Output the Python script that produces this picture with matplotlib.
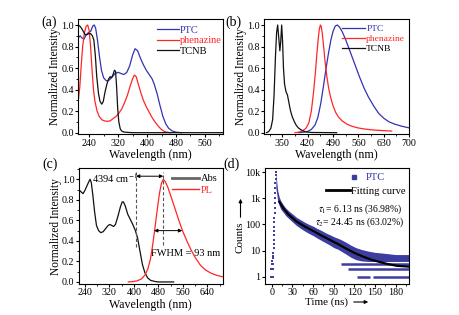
import matplotlib
matplotlib.use('Agg')
import matplotlib.pyplot as plt
from matplotlib.lines import Line2D
from matplotlib.patches import FancyArrowPatch
from matplotlib.ticker import MultipleLocator, NullLocator

plt.rcParams['font.family'] = ['Liberation Serif', 'DejaVu Sans']
plt.rcParams['mathtext.fontset'] = 'stix'
plt.rcParams['axes.linewidth'] = 0.8

BLUE = '#3333b0'
RED = '#ff2626'
DOTS = '#3d3da0'

# ---------------- (a) absorption ----------------
a_ptc_wl = [210, 215, 220, 226, 232, 238, 244, 250, 254, 258, 263, 268, 274, 280, 288, 296, 304, 312, 320, 328,
            336, 344, 352, 360, 367, 374, 382, 390, 398, 406, 414, 420, 428, 436, 444, 452, 460, 470, 480, 495]
a_ptc_val = [0.88, 0.90, 0.88, 0.87, 0.91, 0.93, 0.94, 0.99, 1.0, 0.97, 0.86, 0.72, 0.58, 0.51, 0.48, 0.49, 0.52,
             0.55, 0.56, 0.55, 0.54, 0.56, 0.62, 0.72, 0.78, 0.76, 0.69, 0.63, 0.58, 0.54, 0.50, 0.45, 0.36, 0.25,
             0.15, 0.08, 0.04, 0.015, 0.005, 0.0]
a_phz_wl = [210, 214, 218, 222, 227, 232, 236, 240, 244, 248, 252, 256, 262, 268, 275, 282, 290, 298, 306, 314,
            322, 330, 338, 346, 354, 360, 365, 370, 376, 382, 390, 398, 406, 414, 422, 430, 438, 446, 454, 465]
a_phz_val = [0.30, 0.42, 0.62, 0.80, 0.93, 0.99, 1.0, 0.95, 0.80, 0.58, 0.40, 0.29, 0.20, 0.15, 0.12, 0.11, 0.105,
             0.11, 0.13, 0.15, 0.18, 0.22, 0.28, 0.35, 0.44, 0.50, 0.535, 0.52, 0.45, 0.38, 0.30, 0.24, 0.19, 0.14,
             0.10, 0.065, 0.035, 0.015, 0.005, 0.0]
a_tcnb_wl = [210, 214, 219, 224, 229, 234, 239, 244, 249, 253, 257, 261, 266, 270, 275, 279, 284, 289, 294, 298,
             302, 306, 310, 313, 316, 319, 322, 326, 330, 336, 345, 360, 610]
a_tcnb_val = [1.0, 0.99, 0.97, 0.94, 0.91, 0.91, 0.92, 0.92, 0.90, 0.86, 0.72, 0.52, 0.36, 0.29, 0.265, 0.29, 0.38,
              0.45, 0.50, 0.52, 0.51, 0.54, 0.58, 0.57, 0.42, 0.22, 0.10, 0.035, 0.015, 0.006, 0.003, 0.0, 0.0]

# ---------------- (b) emission ----------------
b_ptc_wl = [395, 410, 420, 430, 440, 448, 456, 463, 470, 477, 484, 490, 496, 502, 508, 515, 523, 532, 542, 552,
            563, 575, 588, 602, 616, 630, 645, 660, 680, 700]
b_ptc_val = [0.0, 0.005, 0.012, 0.03, 0.07, 0.14, 0.27, 0.42, 0.58, 0.73, 0.86, 0.94, 0.99, 1.0, 0.98, 0.94, 0.88,
             0.80, 0.71, 0.62, 0.52, 0.42, 0.33, 0.25, 0.18, 0.135, 0.10, 0.08, 0.06, 0.045]
b_phz_wl = [385, 395, 405, 415, 423, 430, 436, 441, 445, 449, 452, 455, 457, 460, 464, 468, 473, 478, 484, 490,
            497, 505, 515, 528, 542, 558, 575, 595, 615, 635, 652]
b_phz_val = [0.0, 0.005, 0.015, 0.04, 0.09, 0.2, 0.37, 0.55, 0.72, 0.87, 0.96, 1.0, 0.99, 0.93, 0.8, 0.66, 0.52,
             0.41, 0.32, 0.25, 0.19, 0.145, 0.11, 0.08, 0.06, 0.045, 0.035, 0.027, 0.022, 0.018, 0.015]
b_tcnb_wl = [306, 312, 318, 323, 327, 331, 334, 337, 340, 343, 345.5, 348, 350.5, 353, 356, 360, 364, 368, 372,
             377, 382, 388, 394, 400, 408, 416, 430, 500]
b_tcnb_val = [0.0, 0.01, 0.04, 0.12, 0.35, 0.72, 0.93, 1.0, 0.88, 0.76, 0.85, 1.0, 0.85, 0.6, 0.45, 0.38, 0.35,
              0.28, 0.21, 0.15, 0.11, 0.07, 0.045, 0.03, 0.015, 0.007, 0.002, 0.0]

# ---------------- (c) Abs / PL ----------------
c_abs_wl = [220, 227, 234, 240, 246, 252, 257, 261, 266, 272, 278, 285, 292, 300, 308, 316, 322, 328, 334, 340,
            348, 356, 362, 366, 372, 380, 390, 398, 405, 412, 420, 428, 436, 445, 455, 470, 480, 530]
c_abs_val = [0.90, 0.88, 0.86, 0.89, 0.93, 0.97, 1.0, 0.97, 0.85, 0.68, 0.55, 0.50, 0.48, 0.49, 0.52, 0.55, 0.56,
             0.55, 0.54, 0.56, 0.64, 0.73, 0.78, 0.78, 0.74, 0.66, 0.60, 0.55, 0.50, 0.43, 0.30, 0.17, 0.09, 0.04,
             0.015, 0.004, 0.0, 0.0]
c_pl_wl = [382, 395, 410, 425, 437, 446, 454, 460, 466, 472, 478, 484, 490, 496, 502, 510, 518, 527, 537, 548,
           560, 573, 587, 602, 618, 635, 652, 670, 690]
c_pl_val = [0.0, 0.003, 0.01, 0.03, 0.07, 0.13, 0.22, 0.33, 0.46, 0.60, 0.74, 0.87, 0.96, 1.0, 0.98, 0.93, 0.86,
            0.78, 0.69, 0.59, 0.49, 0.40, 0.31, 0.23, 0.16, 0.115, 0.085, 0.065, 0.05]
shift_lines_x = [407, 496]          # absorption edge, PL maximum
shift_lines_y0 = [0.34, 0.36]
shift_lines_y1 = 1.07
shift_arrow_y = 1.03
fwhm_x = [466, 558]
fwhm_y = 0.5

# ---------------- (d) decay ----------------
pre_t = [-1.5, -0.8, 0.0, 0.6, 1.2, -1.0, -0.3, 0.4, 1.0, 0.2, 0.8, 1.4, 0.5, 1.1, 1.6]
pre_c = [1, 1, 1, 1, 1, 2, 2, 2, 2, 3, 3, 3, 4, 5, 6]
rise_t = [2.2, 2.4, 2.6, 2.8, 3.0, 3.2, 3.4, 3.6, 3.8, 4.0, 4.2, 4.4, 4.6, 4.8, 5.0, 5.2, 5.4, 5.6, 5.8]
rise_c = [8, 12, 18, 26, 38, 55, 80, 120, 180, 280, 420, 650, 1000, 1600, 2500, 3800, 5600, 8000, 10500]
band_t = [5.8, 7, 8.5, 10.8, 13, 16.7, 20, 23.9, 30, 36.1, 42, 48.2, 54, 60.3, 66, 72.5, 78, 84.6, 90, 96.7, 102,
          108.9, 115, 122, 130, 140, 150, 160, 170, 180, 190, 200]
band_hi = [10500, 4500, 2000, 1100, 800, 560, 430, 340, 250, 185, 150, 120, 100, 85, 70, 58, 48, 40, 34, 29, 25,
           20, 16, 13, 11, 9.5, 8.5, 8, 7.5, 7, 7, 7]
band_lo = [2500, 1500, 800, 520, 380, 290, 220, 175, 125, 90, 70, 55, 45, 37, 30, 24, 20, 16, 13, 11, 9, 7, 5.5,
           4.5, 4, 3.8, 3.8, 3.8, 3.8, 3.8, 3.8, 3.8]
row_level = [3, 2, 1, 1]
row_start = [100, 111, 123.5, 147.6]
row_end = [200, 200, 143, 200]
fit_t = [10.8, 16.7, 23.9, 36.1, 48.2, 60.3, 72.5, 84.6, 96.7, 108.9, 121, 133, 145.3, 157.4, 169.5, 181.7, 200]
fit_c = [745, 417, 246, 128, 82, 56, 37, 25.5, 17.4, 11.5, 7.9, 5.8, 4.4, 3.6, 3.0, 2.6, 2.4]
d_yticks = [1, 10, 100, 1000, 10000]
d_yticklabels = ['1', '10', '100', '1k', '10k']

W, H = 460, 315
fig = plt.figure(figsize=(W / 100, H / 100), dpi=100)


def box(x0, x1, ytop, ybot):
    return [x0 / W, 1 - ybot / H, (x1 - x0) / W, (ybot - ytop) / H]


axa = fig.add_axes(box(78.3, 223, 19.3, 134.3))
axb = fig.add_axes(box(264.3, 409, 19.3, 134.3))
axc = fig.add_axes(box(78.7, 222.7, 168.3, 284))
axd = fig.add_axes(box(265, 409.3, 168.3, 284))

TICK = 7.2
for ax in (axa, axb, axc, axd):
    ax.tick_params(which='major', direction='out', length=2.2, width=0.8, labelsize=TICK, pad=1.0,
                   top=False, right=False)
    ax.tick_params(which='minor', direction='out', length=1.2, width=0.6, top=False, right=False)

LW = 0.9
axa.plot(a_ptc_wl, a_ptc_val, color=BLUE, lw=LW, label='PTC')
axa.plot(a_phz_wl, a_phz_val, color=RED, lw=LW, label='phenazine')
axa.plot(a_tcnb_wl, a_tcnb_val, color='#111111', lw=LW, label='TCNB')
axa.set_xlim(210, 610)
axa.set_ylim(-0.015, 1.053)
axa.set_xticks([240, 320, 400, 480, 560])
axa.xaxis.set_minor_locator(MultipleLocator(40))
axa.yaxis.set_major_locator(MultipleLocator(0.2))
axa.yaxis.set_minor_locator(MultipleLocator(0.1))
axa.legend(loc='upper right', bbox_to_anchor=(1.02, 0.98), frameon=False, fontsize=7.5, handlelength=2.1,
           handletextpad=0.1, labelspacing=0.1, borderaxespad=0, labelcolor=[BLUE, RED, 'black'])

axb.plot(b_ptc_wl, b_ptc_val, color=BLUE, lw=LW, label='PTC')
axb.plot(b_phz_wl, b_phz_val, color=RED, lw=LW, label='phenazine')
axb.plot(b_tcnb_wl, b_tcnb_val, color='#111111', lw=LW, label='TCNB')
axb.set_xlim(300, 700)
axb.set_ylim(-0.015, 1.053)
axb.set_xticks([350, 420, 490, 560, 630, 700])
axb.xaxis.set_minor_locator(MultipleLocator(35))
axb.yaxis.set_major_locator(MultipleLocator(0.2))
axb.yaxis.set_minor_locator(MultipleLocator(0.1))
axb.legend(loc='upper right', bbox_to_anchor=(1.0, 0.99), frameon=False, fontsize=6.8, handlelength=2.4,
           handletextpad=0.15, labelspacing=0.15, borderaxespad=0, labelcolor=[BLUE, RED, 'black'])

axc.plot(c_abs_wl, c_abs_val, color='#111111', lw=LW, label='Abs')
axc.plot(c_pl_wl, c_pl_val, color=RED, lw=LW, label='PL')
axc.set_xlim(220, 690)
axc.set_ylim(-0.02, 1.107)
axc.set_xticks([240, 320, 400, 480, 560, 640])
axc.xaxis.set_minor_locator(MultipleLocator(40))
axc.yaxis.set_major_locator(MultipleLocator(0.2))
axc.yaxis.set_minor_locator(MultipleLocator(0.1))
for x, y0 in zip(shift_lines_x, shift_lines_y0):
    axc.plot([x, x], [y0, shift_lines_y1], color='#555555', lw=0.8, ls=(0, (3, 2)))
arrowprops = dict(arrowstyle='<|-|>', color='black', lw=0.7, mutation_scale=5, shrinkA=0, shrinkB=0)
axc.annotate('', xy=(shift_lines_x[0], shift_arrow_y), xytext=(shift_lines_x[1], shift_arrow_y),
             arrowprops=arrowprops)
axc.annotate('', xy=(fwhm_x[0], fwhm_y), xytext=(fwhm_x[1], fwhm_y), arrowprops=arrowprops)
axc.text(265, 1.01, '4394 cm$^{-1}$', fontsize=7.5, va='center', ha='left')
axc.text(457, 0.28, 'FWHM = 93 nm', fontsize=7.5, va='center', ha='left', zorder=1)
hc = [Line2D([], [], color='#666666', lw=2.0), Line2D([], [], color=RED, lw=1.0)]
axc.legend(hc, ['Abs', 'PL'], loc='upper right', bbox_to_anchor=(0.995, 0.985), frameon=False, fontsize=7.5,
           handlelength=2.6, handletextpad=0.2, labelspacing=0.2, borderaxespad=0,
           labelcolor=['black', RED])

# (d)
axd.set_yscale('log')
axd.fill_between(band_t, band_lo, band_hi, color=DOTS, lw=0)
axd.hlines(row_level, row_start, row_end, color=DOTS, lw=1.8)
axd.scatter(pre_t, pre_c, s=3, marker='s', color=DOTS, lw=0)
axd.scatter(rise_t, rise_c, s=3, marker='s', color=DOTS, lw=0)
axd.plot(fit_t, fit_c, color='black', lw=1.6)
axd.set_xlim(-10, 200)
axd.set_ylim(0.52, 14200)
axd.set_yticks(d_yticks)
axd.set_yticklabels(d_yticklabels)
axd.yaxis.set_minor_locator(NullLocator())
axd.set_xticks([0, 30, 60, 90, 120, 150, 180])
axd.xaxis.set_minor_locator(MultipleLocator(15))
leg1 = axd.legend([Line2D([], [], marker='s', ls='none', color=DOTS, ms=2.2)], ['PTC'], loc='upper right',
                  bbox_to_anchor=(0.86, 0.995), frameon=False, fontsize=7.6, handlelength=0.8,
                  handletextpad=0.7, borderaxespad=0, labelcolor=[BLUE])
axd.add_artist(leg1)
axd.legend([Line2D([], [], color='black', lw=2.0)], ['Fitting curve'], loc='upper right',
           bbox_to_anchor=(1.0, 0.88), frameon=False, fontsize=7.6, handlelength=2.2, handletextpad=0.1,
           borderaxespad=0, labelcolor=['black'])
axd.text((318 - 265) / 144.3, 1 - (209 - 168.3) / 115.7, r'$\tau_1$= 6.13 ns (36.98%)', fontsize=7.0,
         transform=axd.transAxes, va='center', ha='left')
axd.text((315 - 265) / 144.3, 1 - (222.5 - 168.3) / 115.7, r'$\tau_2$= 24.45 ns (63.02%)', fontsize=7.0,
         transform=axd.transAxes, va='center', ha='left')

# labels
for ax in (axa, axb, axc):
    ax.set_ylabel('Normalized Intensity', fontsize=8.3, labelpad=0)
    ax.set_xlabel('Wavelength (nm)', fontsize=8.6, labelpad=1)

fig.text(327 / W, 1 - 302 / H, 'Time (ns)', fontsize=8.0, ha='center', va='center')
fig.text(240 / W, 1 - 237 / H, 'Counts', fontsize=8.0, ha='center', va='center', rotation=90)
fig.add_artist(FancyArrowPatch((351 / W, 1 - 302 / H), (371 / W, 1 - 302 / H), transform=fig.transFigure,
                               arrowstyle='-|>', mutation_scale=5, lw=0.8, color='black'))
fig.add_artist(FancyArrowPatch((240.5 / W, 1 - 220 / H), (240.5 / W, 1 - 196 / H), transform=fig.transFigure,
                               arrowstyle='-|>', mutation_scale=5, lw=0.8, color='black'))

for lab, x, y in [('(a)', 49, 22), ('(b)', 233, 22), ('(c)', 50, 164), ('(d)', 232, 164)]:
    fig.text(x / W, 1 - y / H, lab, fontsize=10, ha='center', va='center')

fig.savefig('out.png', dpi=100)
